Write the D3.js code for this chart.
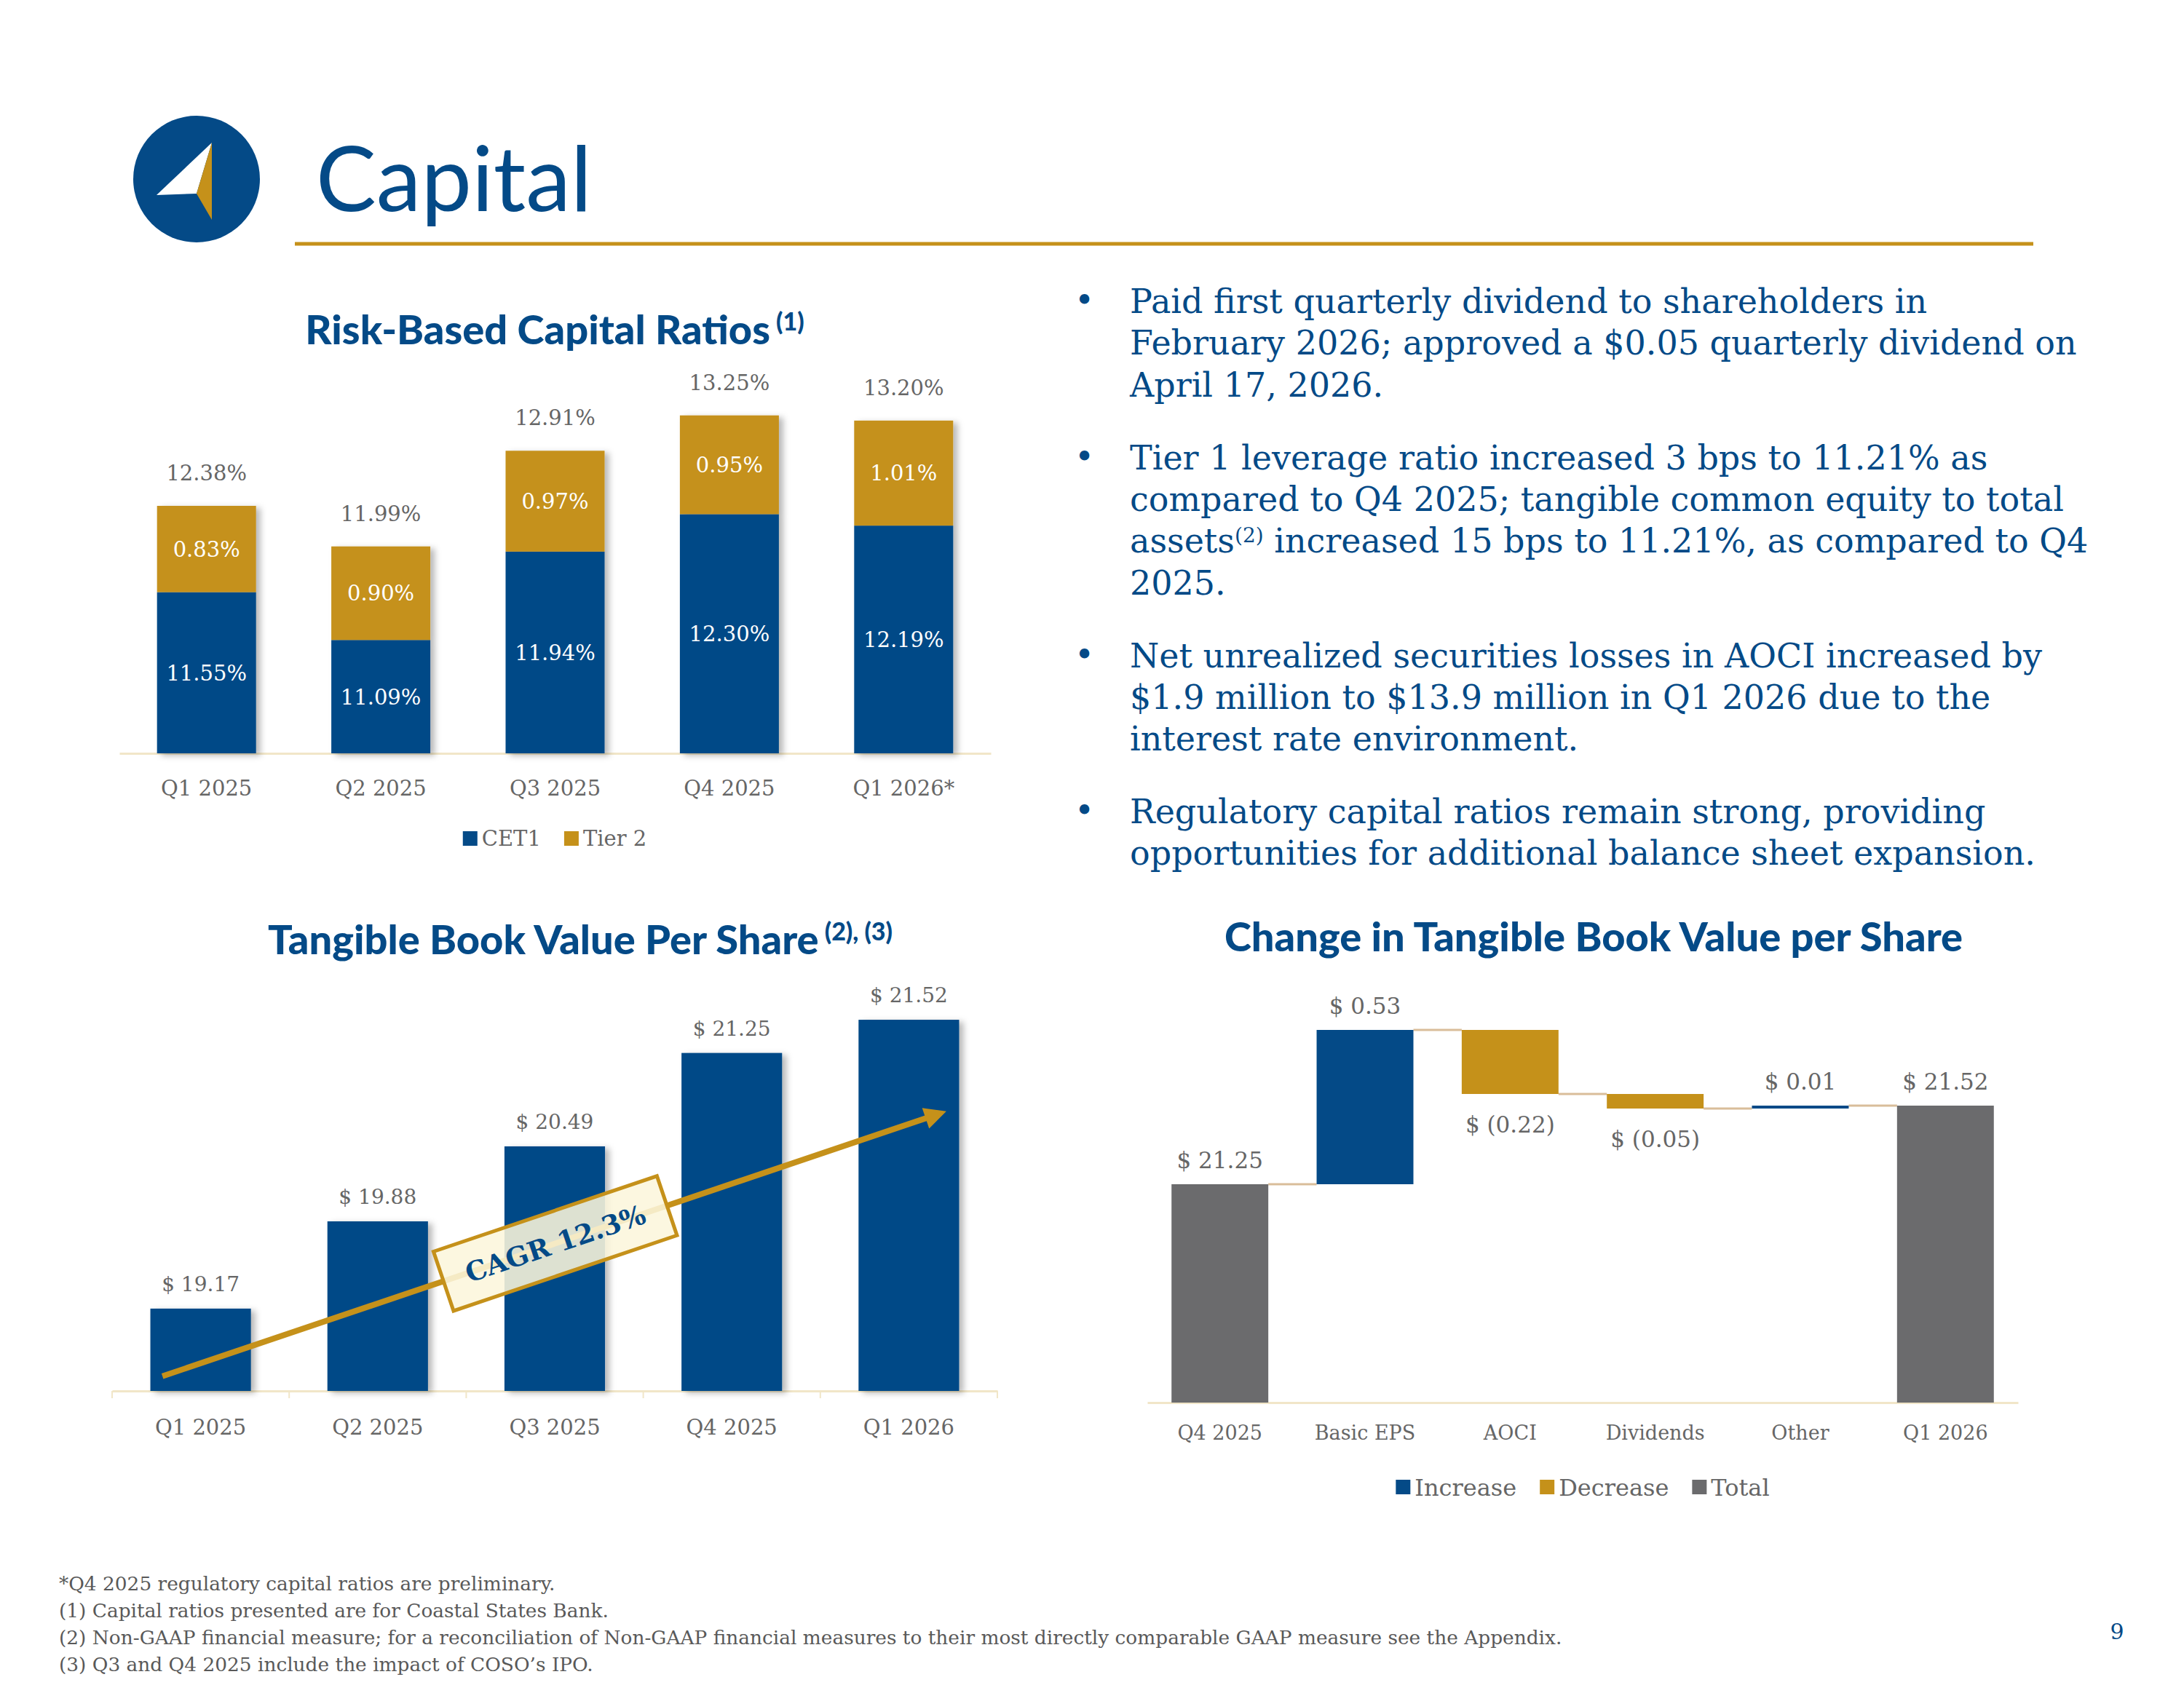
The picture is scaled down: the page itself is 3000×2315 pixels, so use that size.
<!DOCTYPE html>
<html>
<head>
<meta charset="utf-8">
<script src="https://cdnjs.cloudflare.com/ajax/libs/d3/7.8.5/d3.min.js"></script>
<style>
  body { margin: 0; background: #fff; }
  svg { display: block; }
</style>
</head>
<body>
<div id="slide"></div>
<script>
var blue = "#044a87", gold = "#c5911a", grey = "#6b6b6d", labelGrey = "#666666", axisCream = "#f1e6c8";
var serif = "'DejaVu Serif', serif", sans = "Lato, 'Open Sans', sans-serif";

// Risk-Based Capital Ratios
var rbcQuarters = ["Q1 2025", "Q2 2025", "Q3 2025", "Q4 2025", "Q1 2026*"];
var cet1 = [11.55, 11.09, 11.94, 12.30, 12.19];
var tier2 = [0.83, 0.90, 0.97, 0.95, 1.01];
var rbcTotals = [12.38, 11.99, 12.91, 13.25, 13.20];
var rbcLegend = ["CET1", "Tier 2"];

// Tangible Book Value Per Share
var tbvQuarters = ["Q1 2025", "Q2 2025", "Q3 2025", "Q4 2025", "Q1 2026"];
var tbvValues = [19.17, 19.88, 20.49, 21.25, 21.52];
var cagrText = "CAGR 12.3%";
var cagrEnds = [18.62, 20.78];

// Change in TBV per share
var wfSteps = ["Q4 2025", "Basic EPS", "AOCI", "Dividends", "Other", "Q1 2026"];
var wfValues = [21.25, 0.53, -0.22, -0.05, 0.01, 21.52];
var wfKinds = ["total", "increase", "decrease", "decrease", "increase", "total"];
var wfLegend = ["Increase", "Decrease", "Total"];

var bullets = [
  ["Paid first quarterly dividend to shareholders in",
   "February 2026; approved a $0.05 quarterly dividend on",
   "April 17, 2026."],
  ["Tier 1 leverage ratio increased 3 bps to 11.21% as",
   "compared to Q4 2025; tangible common equity to total",
   "assets^(2)^ increased 15 bps to 11.21%, as compared to Q4",
   "2025."],
  ["Net unrealized securities losses in AOCI increased by",
   "$1.9 million to $13.9 million in Q1 2026 due to the",
   "interest rate environment."],
  ["Regulatory capital ratios remain strong, providing",
   "opportunities for additional balance sheet expansion."]
];

var footnotes = [
  "*Q4 2025 regulatory capital ratios are preliminary.",
  "(1) Capital ratios presented are for Coastal States Bank.",
  "(2) Non-GAAP financial measure; for a reconciliation of Non-GAAP financial measures to their most directly comparable GAAP measure see the Appendix.",
  "(3) Q3 and Q4 2025 include the impact of COSO\u2019s IPO."
];

var kindColor = { increase: blue, decrease: gold, total: grey };

var svg = d3.select("#slide").append("svg")
    .attr("width", 3000).attr("height", 2315);

var defs = svg.append("defs");
defs.append("filter").attr("id", "shadow")
    .attr("x", "-20%").attr("y", "-10%").attr("width", "150%").attr("height", "130%")
  .append("feDropShadow")
    .attr("dx", 6).attr("dy", 3).attr("stdDeviation", 4)
    .attr("flood-color", "#000").attr("flood-opacity", 0.28);
defs.append("marker").attr("id", "arrowhead")
    .attr("markerUnits", "userSpaceOnUse").attr("viewBox", "0 0 10 10")
    .attr("refX", 3.5).attr("refY", 5)
    .attr("markerWidth", 34).attr("markerHeight", 30).attr("orient", "auto")
  .append("path").attr("d", "M0,0L10,5L0,10Z").attr("fill", gold);

// header: logo, title, gold rule
svg.append("circle").attr("cx", 270).attr("cy", 246).attr("r", 87).attr("fill", blue);
svg.append("path").attr("d", "M291,196L215,268L270,266Z").attr("fill", "#fff");
svg.append("path").attr("d", "M291,196L270,266L291,302Z").attr("fill", gold);
svg.append("text").attr("x", 434).attr("y", 290)
    .attr("font-family", sans).attr("font-size", 124).attr("fill", blue)
    .text("Capital");
svg.append("line").attr("x1", 405).attr("x2", 2793).attr("y1", 335).attr("y2", 335)
    .attr("stroke", gold).attr("stroke-width", 5);

function chartTitle(cx, y, main, sup) {
    var t = svg.append("text").attr("x", cx).attr("y", y)
        .attr("text-anchor", "middle").attr("font-family", sans)
        .attr("font-weight", 900).attr("font-size", 56).attr("fill", blue);
    t.append("tspan").text(main);
    if (sup) t.append("tspan").attr("font-size", 34).attr("baseline-shift", "55%").text(" " + sup);
}

function legend(cx, cy, names, colors, size) {
    var g = svg.append("g");
    var x = 0;
    names.forEach(function(n, i) {
        g.append("rect").attr("x", x).attr("y", cy - 10).attr("width", 20).attr("height", 20)
            .attr("fill", colors[i]);
        var t = g.append("text").attr("x", x + 26).attr("y", cy).attr("dy", "0.36em")
            .attr("font-family", serif).attr("font-size", size).attr("fill", labelGrey).text(n);
        x += 26 + t.node().getComputedTextLength() + 32;
    });
    g.attr("transform", "translate(" + (cx - (x - 32) / 2) + ",0)");
}

function styleAxis(ax, size) {
    ax.select(".domain").attr("stroke", axisCream).attr("stroke-width", 3);
    ax.selectAll("text").attr("font-family", serif).attr("font-size", size).attr("fill", labelGrey);
}

// ---------- Risk-Based Capital Ratios ----------
var rbcX = d3.scaleBand().domain(rbcQuarters).range([164, 1361])
    .paddingInner(0.432).paddingOuter(0.216);
var rbcY = d3.scaleLinear().domain([10, 13.5]).range([1035, 535]);

chartTitle(762, 473, "Risk-Based Capital Ratios", "(1)");

var rbcAxis = svg.append("g").attr("transform", "translate(0,1035)")
    .call(d3.axisBottom(rbcX).tickSize(0).tickSizeOuter(0).tickPadding(37));
styleAxis(rbcAxis, 29);

var rbcBars = svg.append("g").attr("filter", "url(#shadow)");
rbcBars.selectAll(".cet1").data(rbcQuarters).join("rect")
    .attr("x", d => rbcX(d)).attr("width", rbcX.bandwidth())
    .attr("y", (d, i) => rbcY(cet1[i]))
    .attr("height", (d, i) => rbcY(10) - rbcY(cet1[i]))
    .attr("fill", blue);
rbcBars.selectAll(".tier2").data(rbcQuarters).join("rect")
    .attr("x", d => rbcX(d)).attr("width", rbcX.bandwidth())
    .attr("y", (d, i) => rbcY(cet1[i] + tier2[i]))
    .attr("height", (d, i) => rbcY(cet1[i]) - rbcY(cet1[i] + tier2[i]))
    .attr("fill", gold);

var rbcLabels = svg.append("g").attr("font-family", serif).attr("font-size", 29)
    .attr("text-anchor", "middle");
rbcQuarters.forEach(function(q, i) {
    var cx = rbcX(q) + rbcX.bandwidth() / 2;
    rbcLabels.append("text").attr("x", cx).attr("y", (rbcY(10) + rbcY(cet1[i])) / 2)
        .attr("dy", "0.36em").attr("fill", "#fff").text(cet1[i].toFixed(2) + "%");
    rbcLabels.append("text").attr("x", cx).attr("y", (rbcY(cet1[i]) + rbcY(rbcTotals[i])) / 2)
        .attr("dy", "0.36em").attr("fill", "#fff").text(tier2[i].toFixed(2) + "%");
    rbcLabels.append("text").attr("x", cx).attr("y", rbcY(rbcTotals[i]) - 35)
        .attr("fill", labelGrey).text(rbcTotals[i].toFixed(2) + "%");
});
legend(762, 1152, rbcLegend, [blue, gold], 29);

// ---------- Tangible Book Value Per Share ----------
var tbvX = d3.scaleBand().domain(tbvQuarters).range([154, 1370])
    .paddingInner(0.432).paddingOuter(0.216);
var tbvY = d3.scaleLinear().domain([18.5, 22]).range([1911, 1320]);

chartTitle(797, 1311, "Tangible Book Value Per Share", "(2), (3)");

var tbvAxis = svg.append("g").attr("transform", "translate(0,1911)")
    .call(d3.axisBottom(tbvX).tickSize(0).tickSizeOuter(0).tickPadding(39));
styleAxis(tbvAxis, 29);
tbvAxis.selectAll(".bound").data(d3.range(tbvQuarters.length + 1)).join("line")
    .attr("x1", i => tbvX.range()[0] + i * tbvX.step())
    .attr("x2", i => tbvX.range()[0] + i * tbvX.step())
    .attr("y1", 0).attr("y2", 10)
    .attr("stroke", axisCream).attr("stroke-width", 2);

svg.append("g").attr("filter", "url(#shadow)")
  .selectAll("rect").data(tbvQuarters).join("rect")
    .attr("x", d => tbvX(d)).attr("width", tbvX.bandwidth())
    .attr("y", (d, i) => tbvY(tbvValues[i]))
    .attr("height", (d, i) => tbvY(18.5) - tbvY(tbvValues[i]))
    .attr("fill", blue);

svg.append("g").selectAll("text").data(tbvQuarters).join("text")
    .attr("x", d => tbvX(d) + tbvX.bandwidth() / 2)
    .attr("y", (d, i) => tbvY(tbvValues[i]) - 24)
    .attr("text-anchor", "middle").attr("font-family", serif).attr("font-size", 28)
    .attr("fill", labelGrey).text((d, i) => "$ " + tbvValues[i].toFixed(2));

// CAGR trend arrow and label
var p0 = [tbvX(tbvQuarters[0]) + tbvX.bandwidth() * 0.12, tbvY(cagrEnds[0])];
var p1 = [tbvX(tbvQuarters[4]) + tbvX.bandwidth() * 0.89, tbvY(cagrEnds[1])];
var ang = Math.atan2(p1[1] - p0[1], p1[0] - p0[0]);
var short = 22;
svg.append("line")
    .attr("x1", p0[0]).attr("y1", p0[1])
    .attr("x2", p1[0] - short * Math.cos(ang)).attr("y2", p1[1] - short * Math.sin(ang))
    .attr("stroke", gold).attr("stroke-width", 8).attr("marker-end", "url(#arrowhead)");
var mid = [(p0[0] + p1[0]) / 2, (p0[1] + p1[1]) / 2];
var cagr = svg.append("g")
    .attr("transform", "translate(" + mid[0] + "," + mid[1] + ") rotate(" + (ang * 180 / Math.PI) + ")");
cagr.append("rect").attr("x", -162).attr("y", -43).attr("width", 324).attr("height", 86)
    .attr("fill", "#fcf6dc").attr("fill-opacity", 0.88)
    .attr("stroke", gold).attr("stroke-width", 5);
cagr.append("text").attr("text-anchor", "middle").attr("dy", "0.36em")
    .attr("font-family", serif).attr("font-weight", 700).attr("font-size", 37)
    .attr("fill", blue).text(cagrText);

// ---------- Change in Tangible Book Value per Share (waterfall) ----------
var wfX = d3.scaleBand().domain(wfSteps).range([1576, 2772])
    .paddingInner(0.333).paddingOuter(0.1667);
var wfY = d3.scaleLinear().domain([20.5, 22]).range([1927, 1327]);

chartTitle(2189, 1307, "Change in Tangible Book Value per Share");

var wfAxis = svg.append("g").attr("transform", "translate(0,1927)")
    .call(d3.axisBottom(wfX).tickSize(0).tickSizeOuter(0).tickPadding(32));
styleAxis(wfAxis, 27);

// running levels: [start, end] of each step
var run = 0;
var wfSpans = wfValues.map(function(v, i) {
    if (wfKinds[i] === "total") { run = v; return [20.5, v]; }
    var s = run; run = run + v; return [s, run];
});

// connectors
svg.append("g").selectAll("line").data(wfSteps.slice(0, -1)).join("line")
    .attr("x1", d => wfX(d) + wfX.bandwidth())
    .attr("x2", (d, i) => wfX(wfSteps[i + 1]))
    .attr("y1", (d, i) => wfY(wfSpans[i][1]))
    .attr("y2", (d, i) => wfY(wfSpans[i][1]))
    .attr("stroke", "#d9bd9a").attr("stroke-width", 3);

svg.append("g").selectAll("rect").data(wfSteps).join("rect")
    .attr("x", d => wfX(d)).attr("width", wfX.bandwidth())
    .attr("y", (d, i) => wfY(Math.max(wfSpans[i][0], wfSpans[i][1])))
    .attr("height", (d, i) => Math.max(3, Math.abs(wfY(wfSpans[i][0]) - wfY(wfSpans[i][1]))))
    .attr("fill", (d, i) => kindColor[wfKinds[i]]);

svg.append("g").selectAll("text").data(wfSteps).join("text")
    .attr("x", d => wfX(d) + wfX.bandwidth() / 2)
    .attr("y", function(d, i) {
        var top = Math.max(wfSpans[i][0], wfSpans[i][1]);
        var bot = Math.min(wfSpans[i][0], wfSpans[i][1]);
        return wfValues[i] < 0 ? wfY(bot) + 53 : wfY(top) - 22;
    })
    .attr("text-anchor", "middle").attr("font-family", serif).attr("font-size", 31)
    .attr("fill", labelGrey)
    .text(function(d, i) {
        var v = Math.abs(wfValues[i]).toFixed(2);
        return wfValues[i] < 0 ? "$ (" + v + ")" : "$ " + v;
    });
legend(2174, 2043, wfLegend, [blue, gold, grey], 32);

// ---------- bullet text ----------
var bulletG = svg.append("g").attr("font-family", serif).attr("font-size", 46).attr("fill", blue);
var by = 430;
bullets.forEach(function(lines) {
    bulletG.append("text").attr("x", 1476).attr("y", by - 2).attr("font-size", 46).text("\u2022");
    lines.forEach(function(line) {
        var t = bulletG.append("text").attr("x", 1552).attr("y", by);
        line.split("^").forEach(function(part, k) {
            if (k % 2 === 1) t.append("tspan").attr("font-size", 28).attr("baseline-shift", "50%").text(part);
            else t.append("tspan").text(part);
        });
        by += 57.3;
    });
    by += 42.7;
});

// ---------- footnotes and page number ----------
svg.append("g").selectAll("text").data(footnotes).join("text")
    .attr("x", 81).attr("y", (d, i) => 2185 + i * 37)
    .attr("font-family", serif).attr("font-size", 26.4).attr("fill", "#595959")
    .text(d => d);
svg.append("text").attr("x", 2908).attr("y", 2252).attr("text-anchor", "middle")
    .attr("font-family", serif).attr("font-size", 30).attr("fill", blue).text("9");
</script>
</body>
</html>
